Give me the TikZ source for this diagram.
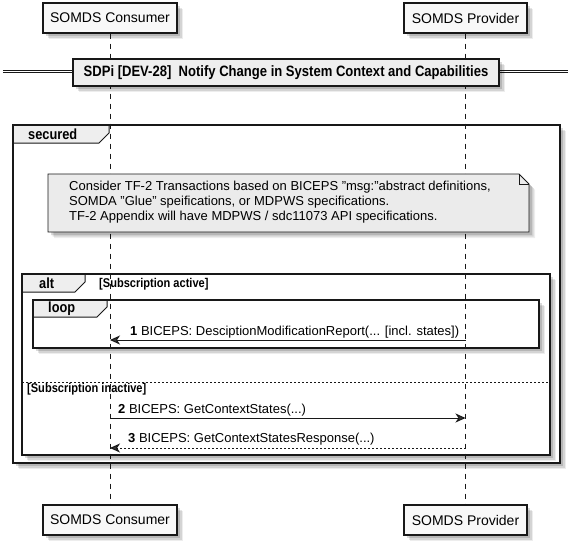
\documentclass[tikz,border=0pt]{standalone}
\usepackage{fontspec}
\setmainfont{Liberation Sans}
\newfontfamily\condb{Liberation Sans}[FakeStretch=0.87]
\usetikzlibrary{arrows.meta}
\definecolor{edge}{HTML}{181818}
\definecolor{boxfill}{HTML}{F8F8F8}
\definecolor{tabfill}{HTML}{EEEEEE}
\definecolor{notefill}{HTML}{EBEBEB}
\definecolor{tipcol}{HTML}{383838}
\begin{document}
\begin{tikzpicture}[x=1pt,y=-1pt,
  sh/.style={preaction={fill=black,opacity=.07,transform canvas={shift={(6pt,-6pt)}}},
             preaction={fill=black,opacity=.10,transform canvas={shift={(4.5pt,-4.5pt)}}},
             preaction={fill=black,opacity=.14,transform canvas={shift={(3pt,-3pt)}}}},
  part/.style={draw=edge,fill=boxfill,line width=1.2pt,minimum height=30pt,inner sep=0pt,
               font=\fontsize{14}{16}\selectfont,sh},
  titlebox/.style={draw=edge,fill=tabfill,line width=1.6pt,minimum height=27pt,minimum width=426pt,
               inner sep=0pt,font=\fontsize{15}{17}\selectfont\condb\bfseries,sh},
  frameline/.style={draw=edge,line width=2pt},
  tabline/.style={draw=edge,fill=tabfill,line width=1pt},
  grp/.style={font=\fontsize{14.7}{16}\selectfont\condb\bfseries,inner sep=0pt,anchor=west},
  guard/.style={font=\fontsize{12.7}{14}\selectfont\condb\bfseries,inner sep=0pt,anchor=west},
  lbl/.style={font=\fontsize{13}{15}\selectfont,inner sep=0pt,anchor=west},
  life/.style={draw=edge,line width=0.8pt,dash pattern=on 5pt off 5pt},
  msg/.style={draw=edge,line width=1pt,-{Stealth[length=10pt,width=9pt,inset=3pt,fill=tipcol]}},
  reply/.style={msg,dash pattern=on 2pt off 2pt},
]
\useasboundingbox (0,0) rectangle (580,546);
\fill[white] (0,0) rectangle (580,546);

% frames
\path[sh,fill=white] (13,125) rectangle (560,463);
\draw[tabline] (13,125) -- (109,125) -- (109,133) -- (99,143) -- (13,143) -- cycle;
\draw[frameline] (13,125) rectangle (560,463);
\node[grp] (secured) at (28,134) {secured};

\path[sh,fill=white] (22,274) rectangle (550,455);
\draw[tabline] (22,274) -- (85,274) -- (85,282) -- (75,292) -- (22,292) -- cycle;
\draw[frameline] (22,274) rectangle (550,455);
\node[grp] (alt) at (39,283) {alt};
\node[guard] (g1) at (99,284) {[Subscription active]};

\path[sh,fill=white] (33,300) rectangle (539,348);
\draw[tabline] (33,300) -- (107,300) -- (107,307) -- (97,317) -- (33,317) -- cycle;
\draw[frameline] (33,300) rectangle (539,348);
\node[grp] (loop) at (48,308.5) {loop};

\draw[edge,line width=0.8pt,dash pattern=on 2pt off 2pt] (22,382) -- (550,382);
\node[guard] (g2) at (27,389) {[Subscription inactive]};

% participants
\node[part,minimum width=134pt] (ctop) at (110,18) {SOMDS Consumer};
\node[part,minimum width=123pt] (ptop) at (465.5,18) {SOMDS Provider};
\node[part,minimum width=134pt] (cbot) at (110,520) {SOMDS Consumer};
\node[part,minimum width=123pt] (pbot) at (465.5,520) {SOMDS Provider};
\draw[life] (ctop.south) -- (cbot.north);
\draw[life] (ptop.south) -- (pbot.north);

% title
\coordinate (tl) at (3,71.5);
\coordinate (tr) at (568,71.5);
\draw[edge,double=white,double distance=1.6pt,line width=0.8pt] (tl) -- (tr);
\node[titlebox] (title) at (286,72.5) {SDPi [DEV-28]\ \ Notify Change in System Context and Capabilities};

% note
\path[sh,fill=notefill,draw=edge,line width=0.8pt] (48,174) -- (519,174) -- (529,184) -- (529,232) -- (48,232) -- cycle;
\draw[edge,line width=0.8pt] (519,174) -- (519,184) -- (529,184);
\node[lbl,anchor=north west,align=left,font=\fontsize{13}{15}\selectfont] (note) at (69,181)
 {Consider TF-2 Transactions based on BICEPS "msg:"abstract definitions,\\
  SOMDA "Glue" speifications, or MDPWS specifications.\\
  TF-2 Appendix will have MDPWS / sdc11073 API specifications.};

% messages
\coordinate (m1s) at (465.5,340);
\coordinate (m1e) at (110,340);
\draw[msg] (m1s) -- (m1e);
\node[lbl] (l1) at (130,332) {\textbf{1} BICEPS: DesciptionModificationReport(... [incl. states])};

\coordinate (m2s) at (110,418);
\coordinate (m2e) at (465.5,418);
\draw[msg] (m2s) -- (m2e);
\node[lbl] (l2) at (118,410) {\textbf{2} BICEPS: GetContextStates(...)};

\coordinate (m3s) at (465.5,448);
\coordinate (m3e) at (110,448);
\draw[reply] (m3s) -- (m3e);
\node[lbl] (l3) at (128,439) {\textbf{3} BICEPS: GetContextStatesResponse(...)};
\end{tikzpicture}
\end{document}
